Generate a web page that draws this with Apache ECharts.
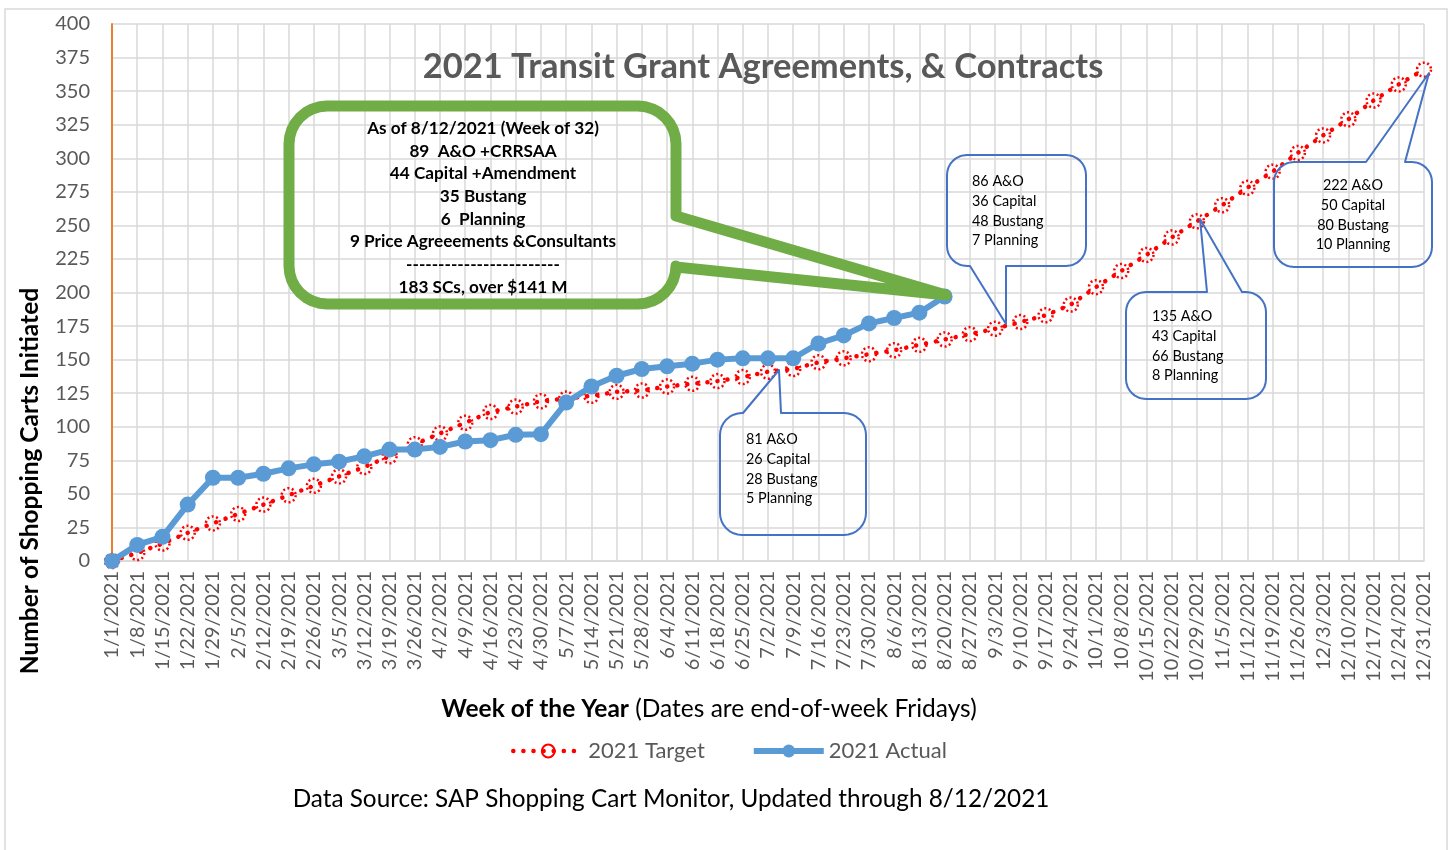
<!DOCTYPE html>
<html>
<head>
<meta charset="utf-8">
<script src="https://cdn.jsdelivr.net/npm/echarts/dist/echarts.min.js"></script>
<style>
  html, body { margin: 0; padding: 0; background: #fff; }
  #main { width: 1452px; height: 850px; }
</style>
</head>
<body>
<div id="main"></div>
<script>
// week-ending Fridays of 2021
var weeks = ['1/1/2021', '1/8/2021', '1/15/2021', '1/22/2021', '1/29/2021', '2/5/2021', '2/12/2021',
  '2/19/2021', '2/26/2021', '3/5/2021', '3/12/2021', '3/19/2021', '3/26/2021', '4/2/2021', '4/9/2021',
  '4/16/2021', '4/23/2021', '4/30/2021', '5/7/2021', '5/14/2021', '5/21/2021', '5/28/2021', '6/4/2021',
  '6/11/2021', '6/18/2021', '6/25/2021', '7/2/2021', '7/9/2021', '7/16/2021', '7/23/2021', '7/30/2021',
  '8/6/2021', '8/13/2021', '8/20/2021', '8/27/2021', '9/3/2021', '9/10/2021', '9/17/2021', '9/24/2021',
  '10/1/2021', '10/8/2021', '10/15/2021', '10/22/2021', '10/29/2021', '11/5/2021', '11/12/2021',
  '11/19/2021', '11/26/2021', '12/3/2021', '12/10/2021', '12/17/2021', '12/24/2021', '12/31/2021'];

var target2021 = [0, 6, 13, 21, 28, 35, 42, 49, 56, 63, 70, 78, 87, 95, 103, 111, 115, 119, 121, 123,
  126, 127, 130, 132, 134, 137, 141, 143, 148, 151, 154, 157, 161, 165, 169, 173, 178, 183, 191, 204,
  216, 228, 241, 253, 265, 278, 290, 304, 317, 329, 343, 355, 366];

var actual2021 = [0, 12, 18, 42, 62, 62, 65, 69, 72, 74, 78, 83, 83, 85, 89, 90, 94, 94.5, 118, 130,
  138, 143, 145, 147, 150, 151, 151, 151, 162, 168, 177, 181, 185, 197];

var greenNote = ['As of 8/12/2021 (Week of 32)', '89  A&O +CRRSAA', '44 Capital +Amendment', '35 Bustang',
  '6  Planning', '9 Price Agreeements &Consultants', '------------------------', '183 SCs, over $141 M'];
var noteJul = ['81 A&O', '26 Capital', '28 Bustang', '5 Planning'];
var noteSep = ['86 A&O', '36 Capital', '48 Bustang', '7 Planning'];
var noteOct = ['135 A&O', '43 Capital', '66 Bustang', '8 Planning'];
var noteDec = ['222 A&O', '50 Capital', '80 Bustang', '10 Planning'];

var FONT = 'Lato, "Open Sans", sans-serif';

// rounded box outline with a wedge-shaped pointer on one side
function calloutPoints(x, y, w, h, r, side, b1, b2, tip) {
  var pts = [];
  function arc(cx, cy, a0, a1) {
    for (var k = 0; k <= 8; k++) {
      var a = a0 + (a1 - a0) * k / 8;
      pts.push([cx + r * Math.cos(a), cy + r * Math.sin(a)]);
    }
  }
  arc(x + r, y + r, Math.PI, 1.5 * Math.PI);
  if (side === 'top') pts.push([b1, y], tip, [b2, y]);
  arc(x + w - r, y + r, 1.5 * Math.PI, 2 * Math.PI);
  if (side === 'right') pts.push([x + w, b1], tip, [x + w, b2]);
  arc(x + w - r, y + h - r, 0, 0.5 * Math.PI);
  if (side === 'bottom') pts.push([b2, y + h], tip, [b1, y + h]);
  arc(x + r, y + h - r, 0.5 * Math.PI, Math.PI);
  return pts;
}

function box(pts, color, width, z) {
  return {
    type: 'polygon', z: z, silent: true,
    shape: { points: pts },
    style: { fill: 'rgba(0,0,0,0)', stroke: color, lineWidth: width, lineJoin: 'round' }
  };
}

function note(lines, x, y, align, size, weight, lh) {
  return {
    type: 'text', x: x, y: y, z: 20, silent: true,
    style: {
      text: lines.join('\n'), fill: '#000', fontFamily: FONT, fontSize: size, fontWeight: weight,
      lineHeight: lh, textAlign: align, textVerticalAlign: 'top'
    }
  };
}

var chartDom = document.getElementById('main');
var myChart = echarts.init(chartDom, null, { renderer: 'canvas' });

var option = {
  animation: false,
  backgroundColor: '#fff',
  grid: { left: 112, right: 28, top: 24, bottom: 289, containLabel: false },
  legend: {
    left: 506, top: 735, itemWidth: 70, itemHeight: 16, itemGap: 46,
    textStyle: { fontFamily: FONT, fontSize: 22, color: '#595959' },
    data: [
      { name: '2021 Target', lineStyle: { width: 4.5 } },
      { name: '2021 Actual', lineStyle: { width: 6 } }
    ]
  },
  xAxis: {
    type: 'category', data: weeks, boundaryGap: false,
    axisLine: { lineStyle: { color: '#d9d9d9', width: 1.5 } },
    axisTick: { show: false },
    axisLabel: { interval: 0, rotate: 90, margin: 10, fontFamily: FONT, fontSize: 20, color: '#595959' },
    splitLine: { show: true, lineStyle: { color: '#d9d9d9', width: 1.5 } }
  },
  yAxis: {
    type: 'value', min: 0, max: 400, interval: 25,
    axisLine: { show: true, lineStyle: { color: '#ED7D31', width: 2 } },
    axisTick: { show: false },
    axisLabel: { margin: 22, fontFamily: FONT, fontSize: 20, color: '#595959' },
    splitLine: { lineStyle: { color: '#d9d9d9', width: 1.5 } }
  },
  series: [
    {
      name: '2021 Target', type: 'line', data: target2021, z: 2,
      symbol: 'circle', symbolSize: 14,
      lineStyle: { color: '#FF0000', width: 4.5, type: [0.1, 10], cap: 'round' },
      itemStyle: { color: 'rgba(255,255,255,0)', borderColor: '#FF0000', borderWidth: 2.5, borderType: [2, 2.5] },
      emphasis: { disabled: true }
    },
    {
      name: '2021 Actual', type: 'line', data: actual2021, z: 3,
      symbol: 'circle', symbolSize: 16,
      lineStyle: { color: '#5B9BD5', width: 6 },
      itemStyle: { color: '#5B9BD5' },
      emphasis: { disabled: true }
    }
  ],
  graphic: [
    {
      type: 'rect', silent: true, z: -1,
      shape: { x: 5, y: 9, width: 1442, height: 845 },
      style: { fill: 'rgba(0,0,0,0)', stroke: '#d9d9d9', lineWidth: 1.5 }
    },
    {
      type: 'text', x: 763, y: 67, z: 20, silent: true,
      style: {
        text: '2021 Transit Grant Agreements, & Contracts', fill: '#595959', fontFamily: FONT,
        fontSize: 34.5, fontWeight: 'bold', textAlign: 'center', textVerticalAlign: 'middle'
      }
    },
    {
      type: 'text', x: 30, y: 481, rotation: Math.PI / 2, z: 20, silent: true,
      style: {
        text: 'Number of Shopping Carts Initiated', fill: '#000', fontFamily: FONT,
        fontSize: 24.5, fontWeight: 'bold', textAlign: 'center', textVerticalAlign: 'middle'
      }
    },
    {
      type: 'text', x: 709, y: 709, z: 20, silent: true,
      style: {
        text: '{b|Week of the Year} (Dates are end-of-week Fridays)', fill: '#000', fontFamily: FONT,
        fontSize: 24.5, textAlign: 'center', textVerticalAlign: 'middle',
        rich: { b: { fontWeight: 'bold', fontFamily: FONT, fontSize: 24.5, fill: '#000' } }
      }
    },
    {
      type: 'text', x: 671, y: 799, z: 20, silent: true,
      style: {
        text: 'Data Source: SAP Shopping Cart Monitor, Updated through 8/12/2021', fill: '#000',
        fontFamily: FONT, fontSize: 24.3, textAlign: 'center', textVerticalAlign: 'middle'
      }
    },
    box(calloutPoints(289, 106, 387, 198, 38, 'right', 216, 267, [946, 295]), '#70AD47', 11, 10),
    note(greenNote, 483, 117, 'center', 17.2, 'bold', 22.7),
    box(calloutPoints(720, 413, 146, 122, 22, 'top', 743, 781, [779, 370]), '#4472C4', 2, 10),
    note(noteJul, 746, 430, 'left', 14.4, 'normal', 19.6),
    box(calloutPoints(947, 155, 139, 111, 20, 'bottom', 970, 1006, [1006, 324]), '#4472C4', 2, 10),
    note(noteSep, 972, 172, 'left', 14.4, 'normal', 19.6),
    box(calloutPoints(1126, 292, 140, 107, 20, 'top', 1207, 1242, [1200, 219]), '#4472C4', 2, 10),
    note(noteOct, 1152, 307, 'left', 14.4, 'normal', 19.6),
    box(calloutPoints(1274, 162, 158, 105, 20, 'top', 1366, 1405, [1429, 73]), '#4472C4', 2, 10),
    note(noteDec, 1353, 176, 'center', 14.4, 'normal', 19.6)
  ]
};

option && myChart.setOption(option);
</script>
</body>
</html>
